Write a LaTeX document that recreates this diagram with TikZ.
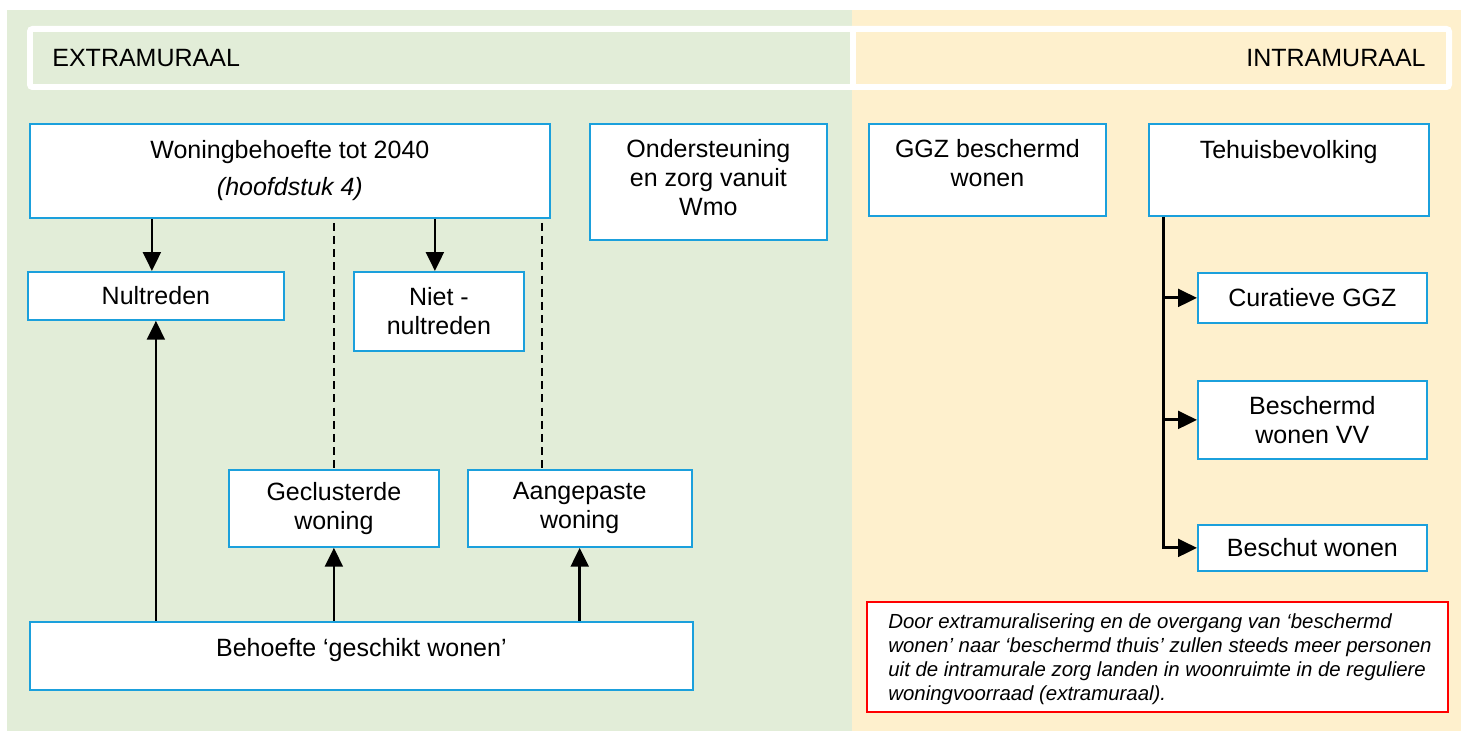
\documentclass[tikz,border=0pt]{standalone}
\usepackage{fontspec}
\setmainfont{Liberation Sans}
\usetikzlibrary{positioning,arrows.meta,calc}
\definecolor{extGreen}{HTML}{E2EDD8}
\definecolor{intOrange}{HTML}{FEF0CD}
\definecolor{boxBlue}{HTML}{1BA0DC}
\definecolor{noteRed}{HTML}{FF0000}
\newcommand{\bodyfont}{\fontsize{12.5}{14.5}\selectfont}
\newcommand{\notefont}{\fontsize{10.2}{12}\selectfont\itshape}
\tikzset{
  box/.style={draw=boxBlue,fill=white,line width=0.9pt,anchor=north west,
    align=center,inner sep=0pt,font=\bodyfont},
  notebox/.style={draw=noteRed,fill=white,line width=0.9pt,anchor=north west,
    inner sep=0pt},
  notetext/.style={anchor=north west,align=left,inner sep=0pt,font=\notefont},
  arrow/.style={-{Triangle[length=3.3mm,width=3.1mm]},line width=1.4pt,draw=black},
  guide/.style={dash pattern=on 4pt off 2.6pt,line width=0.8pt,draw=black},
  zonelabel/.style={font=\bodyfont,inner sep=0pt}
}

\begin{document}
\begin{tikzpicture}[x=0.5pt,y=-0.5pt]
  \useasboundingbox (0,0) rectangle (1464,731);
  % panels
  \fill[extGreen] (7,10) rectangle (852,731);
  \fill[intOrange] (852,10) rectangle (1461,731);
  \fill[white,rounded corners=2.5pt] (27,26) rectangle (1452,90);
  \fill[extGreen] (33,32) rectangle (850,84);
  \fill[intOrange] (856,32) rectangle (1446,84);
  \node[zonelabel,anchor=west] (extra) at (52,58) {EXTRAMURAAL};
  \node[zonelabel,anchor=east] (intra) at (1426,58) {INTRAMURAAL};

  % extramuraal
  \node[box, minimum width=260pt, minimum height=47pt] (woning) at (29,123)
    {Woningbehoefte tot 2040\\[4pt]\textit{(hoofdstuk 4)}};
  \node[box, minimum width=118.5pt, minimum height=58pt] (onder) at (589,123)
    {Ondersteuning\\en zorg vanuit\\Wmo\\[-10pt]~};
  \node[box, minimum width=128pt, minimum height=24pt] (nul) at (27,271) {Nultreden};
  \node[box, minimum width=85pt, minimum height=39.5pt] (nietnul) at (353,271) {Niet -\\nultreden};
  \node[box, minimum width=105pt, minimum height=38.5pt] (geclust) at (228,469) {Geclusterde\\woning};
  \node[box, minimum width=112pt, minimum height=38.5pt, right=13.5pt of geclust] (aangep) {Aangepaste\\woning};
  \node[box, minimum width=331.5pt, minimum height=34pt] (behoefte) at (29,621) {Behoefte ‘geschikt wonen’\\[-6.5pt]~};

  \draw[arrow] ([xshift=-2pt]woning.south -| nul) -- ([xshift=-2pt]nul.north);
  \draw[arrow] ([xshift=-2pt]woning.south -| nietnul) -- ([xshift=-2pt]nietnul.north);
  \draw[arrow] (behoefte.north -| nul) -- (nul);
  \draw[arrow] (behoefte.north -| geclust) -- (geclust);
  \draw[arrow] (behoefte.north -| aangep) -- (aangep);
  \draw[guide] ([yshift=-2pt]woning.south -| geclust) -- (geclust);
  \draw[guide] ([xshift=-4.5pt,yshift=-2pt]woning.south east) -- ([xshift=-4.5pt]woning.south east |- aangep.north);

  % intramuraal
  \node[box, minimum width=118.5pt, minimum height=46pt] (ggz) at (868,123) {GGZ beschermd\\wonen\\[-8pt]~};
  \node[box, minimum width=140pt, minimum height=46pt, right=20.5pt of ggz] (tehuis) {Tehuisbevolking\\[6pt]~};
  \node[box, minimum width=114.5pt, minimum height=25pt] (curat) at (1197,272) {Curatieve GGZ};
  \node[box, minimum width=114.5pt, minimum height=39pt] (bvv) at (1197,380) {Beschermd\\wonen VV};
  \node[box, minimum width=114.5pt, minimum height=23pt] (beschut) at (1197,524) {Beschut wonen};
  \node[notebox, minimum width=290.5pt, minimum height=55pt] (note) at (866,601) {};
  \node[notetext] (notetxt) at ([xshift=11pt,yshift=-6pt]note.north west)
    {Door extramuralisering en de overgang van ‘beschermd\\
     wonen’ naar ‘beschermd thuis’ zullen steeds meer personen\\
     uit de intramurale zorg landen in woonruimte in de reguliere\\
     woningvoorraad (extramuraal).};

  \coordinate (trunk) at ([xshift=8pt]tehuis.south west);
  \draw[arrow] (trunk) |- (beschut.west);
  \draw[arrow] (trunk |- curat.west) -- (curat.west);
  \draw[arrow] (trunk |- bvv.west) -- (bvv.west);
\end{tikzpicture}
\end{document}
